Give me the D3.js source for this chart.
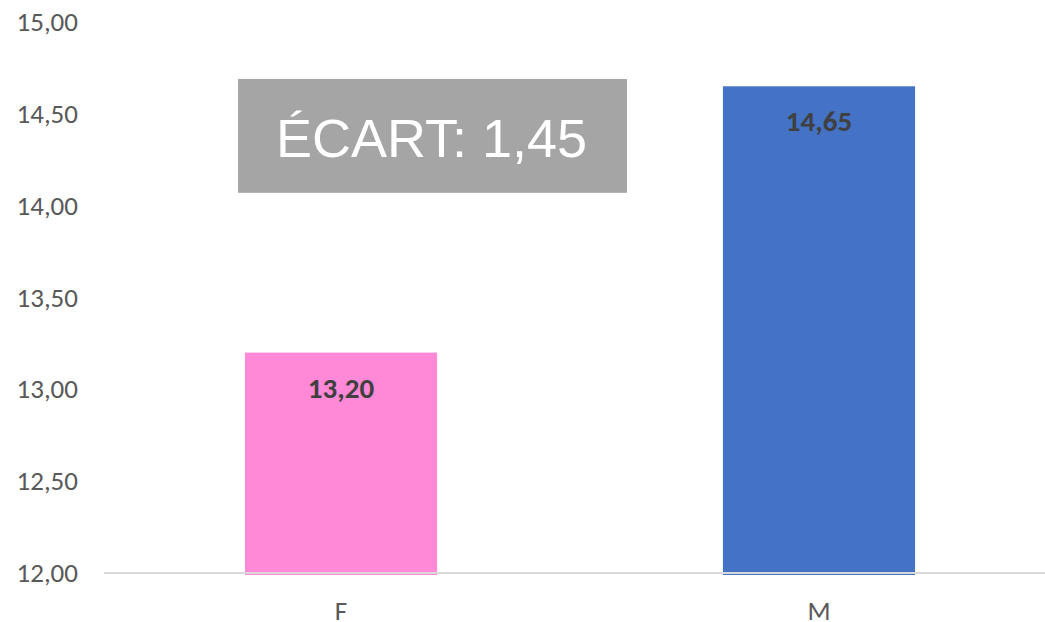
<!DOCTYPE html>
<html><head><meta charset="utf-8">
<script src="https://cdn.jsdelivr.net/npm/d3@7"></script>
<style>body{margin:0;background:#fff;}svg{display:block;}</style>
</head><body>
<svg id="c" width="1045" height="622"></svg>
<script>
const categories = ["F", "M"];
const values = [13.20, 14.65];
const colors = ["#FF88D7", "#4472C4"];
const yTicks = [12, 12.5, 13, 13.5, 14, 14.5, 15];
const gapLabel = "ÉCART: 1,45";
const gapBox = {yTop: 14.69, yBottom: 14.07};

const FONT = "Calibri, Carlito, 'Open Sans', sans-serif";
const svg = d3.select("#c");
const fmt = v => d3.format(".2f")(v).replace(".", ",");
const y = d3.scaleLinear().domain([12, 15]).range([573, 22]);
const x = d3.scaleBand().domain(categories).range([102, 1058]).paddingInner(0.598).paddingOuter(0.299);

// axis labels
const yAxis = d3.axisLeft(y).tickValues(yTicks).tickFormat(fmt).tickSize(0).tickPadding(0);
const gy = svg.append("g").attr("transform", "translate(78,0)").call(yAxis);
gy.select(".domain").remove();
gy.selectAll("text").attr("font-family", FONT).attr("font-size", 27).attr("fill", "#595959");

// bars
svg.selectAll("rect.bar").data(values).join("rect").attr("class", "bar")
  .attr("x", (d, i) => x(categories[i])).attr("width", x.bandwidth())
  .attr("y", d => y(d)).attr("height", d => y(12) - y(d) + 2)
  .attr("fill", (d, i) => colors[i]);

// baseline
svg.append("line").attr("x1", 104).attr("x2", 1045).attr("y1", y(12)).attr("y2", y(12))
  .attr("stroke", "#D9D9D9").attr("stroke-width", 2);

// x axis labels
const xAxis = d3.axisBottom(x).tickSize(0).tickPadding(0);
const gx = svg.append("g").attr("transform", "translate(0,0)").call(xAxis);
gx.select(".domain").remove();
gx.selectAll("text").attr("y", 620).attr("dy", null).attr("font-family", FONT).attr("font-size", 27).attr("fill", "#595959");

// value labels
svg.selectAll("text.val").data(values).join("text").attr("class", "val")
  .attr("x", (d, i) => x(categories[i]) + x.bandwidth() / 2)
  .attr("y", d => y(d) + 45)
  .attr("text-anchor", "middle")
  .attr("font-family", FONT).attr("font-weight", "bold")
  .attr("font-size", 29).attr("fill", "#404040")
  .text(d => fmt(d));

// gap box
const bx0 = 238, bx1 = 627;
svg.append("rect").attr("x", bx0).attr("width", bx1 - bx0)
  .attr("y", y(gapBox.yTop)).attr("height", y(gapBox.yBottom) - y(gapBox.yTop))
  .attr("fill", "#A5A5A5");
svg.append("text").attr("x", (bx0 + bx1) / 2 - 1).attr("y", 157)
  .attr("text-anchor", "middle").attr("font-family", "'Liberation Sans', Arial, sans-serif")
  .attr("font-size", 54).attr("fill", "#fff").text(gapLabel);
</script>
</body></html>
